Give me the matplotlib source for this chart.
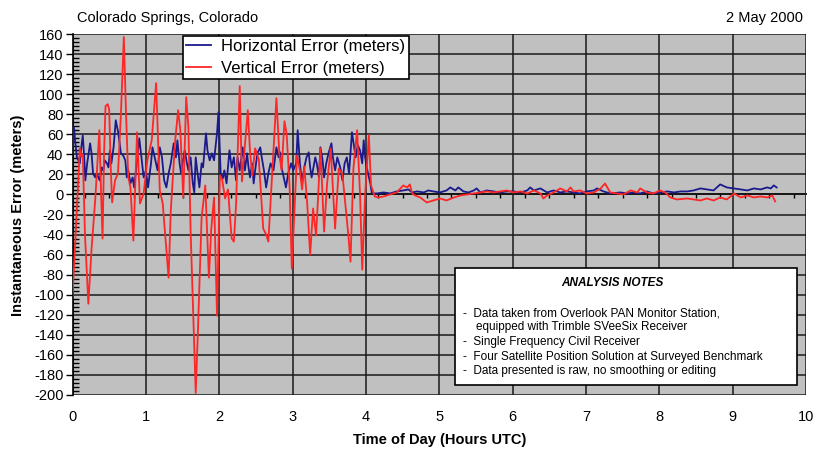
import numpy as np
import matplotlib
matplotlib.use("Agg")
import matplotlib.pyplot as plt
from matplotlib.patches import Rectangle
from matplotlib.ticker import MultipleLocator

plt.rcParams['font.family'] = ['Liberation Sans', 'DejaVu Sans']
plt.rcParams['axes.unicode_minus'] = False

# ---------------- data ----------------
h_time = [0.00, 0.02, 0.035, 0.06, 0.08, 0.10, 0.115, 0.14, 0.16, 0.175, 0.20, 0.24, 0.26, 0.28,
          0.31, 0.33, 0.37, 0.40, 0.42, 0.44, 0.47, 0.49, 0.51, 0.53, 0.56, 0.59, 0.625, 0.66,
          0.69, 0.72, 0.74, 0.76, 0.79, 0.82, 0.84, 0.87, 0.91, 0.94, 0.97, 1.00, 1.03, 1.07,
          1.09, 1.12, 1.16, 1.19, 1.22, 1.25, 1.28, 1.31, 1.34, 1.38, 1.41, 1.43, 1.46, 1.48,
          1.50, 1.53, 1.56, 1.58, 1.61, 1.64, 1.66, 1.68, 1.70, 1.73, 1.76, 1.78, 1.82, 1.84,
          1.87, 1.90, 1.93, 1.97, 1.99, 2.02, 2.05, 2.07, 2.10, 2.14, 2.17, 2.20, 2.23, 2.25,
          2.28, 2.32, 2.35, 2.38, 2.40, 2.42, 2.45, 2.47, 2.49, 2.52, 2.56, 2.58, 2.61, 2.64,
          2.67, 2.70, 2.74, 2.78, 2.81, 2.83, 2.85, 2.88, 2.91, 2.94, 2.98, 3.01, 3.05, 3.07,
          3.10, 3.13, 3.16, 3.19, 3.22, 3.24, 3.26, 3.31, 3.33, 3.36, 3.38, 3.41, 3.43, 3.46,
          3.49, 3.53, 3.55, 3.58, 3.61, 3.65, 3.68, 3.71, 3.74, 3.77, 3.81, 3.84, 3.86, 3.89,
          3.92, 3.95, 3.97, 3.99, 4.02, 4.06, 4.08, 4.10,
          4.15, 4.24, 4.33, 4.42, 4.51, 4.58, 4.63, 4.70, 4.79, 4.85, 4.92, 5.01, 5.10, 5.15,
          5.22, 5.26, 5.33, 5.40, 5.47, 5.51, 5.56, 5.65, 5.74, 5.83, 5.92, 6.01, 6.11, 6.20,
          6.24, 6.29, 6.38, 6.47, 6.56, 6.65, 6.74, 6.83, 6.92, 7.01, 7.11, 7.15, 7.24, 7.33,
          7.47, 7.56, 7.65, 7.74, 7.83, 7.92, 8.01, 8.11, 8.20, 8.29, 8.38, 8.47, 8.56, 8.65,
          8.74, 8.83, 8.92, 9.02, 9.11, 9.20, 9.29, 9.38, 9.47, 9.52, 9.56, 9.60]
h_err = [41, 67, 54, 37, 34, 31, 44, 59, 37, 14, 31, 51, 41, 21,
         17, 21, 14, 27, 24, 34, 31, 27, 44, 31, 47, 74, 61, 41,
         39, 34, 17, 24, 11, 17, 7, 27, 56, 37, 17, 24, 7, 31,
         47, 37, 24, 47, 37, 14, 7, 21, 31, 51, 37, 54, 31, 21,
         31, 44, 31, 24, 37, 11, 2, 37, 24, 7, 31, 27, 61, 44,
         34, 41, 34, 61, 82, 21, 16, 24, 11, 44, 27, 37, 14, 37,
         24, 47, 24, 41, 27, 17, 31, 11, 24, 41, 47, 37, 24, 7,
         21, 31, 24, 47, 37, 42, 27, 17, 7, 21, 31, 24, 31, 64,
         31, 11, 27, 37, 42, 27, 17, 37, 31, 17, 47, 34, 17, 31,
         41, 51, 37, 24, 37, 27, 14, 31, 37, 21, 62, 47, 37, 49,
         44, 31, 54, 37, 24, 11, 2, 1,
         1, 2, 1, 3, 4, 5, 2, 3, 2, 4, 3, 2, 4, 7,
         4, 7, 3, 2, 4, 6, 2, 4, 3, 2, 3, 3, 2, 4,
         7, 4, 6, 2, 4, 2, 3, 2, 1, 3, 4, 6, 3, 1,
         2, 1, 2, 1, 3, 1, 2, 3, 2, 3, 3, 4, 6, 5,
         4, 10, 7, 6, 5, 4, 6, 5, 7, 6, 9, 7]

v_time = [0.00, 0.10, 0.12, 0.14, 0.17, 0.216, 0.26, 0.31, 0.366, 0.39, 0.41, 0.43, 0.45, 0.48,
          0.50, 0.52, 0.54, 0.58, 0.62, 0.66, 0.70, 0.73, 0.76, 0.79, 0.83, 0.88, 0.92, 0.97,
          1.02, 1.08, 1.14, 1.19, 1.23, 1.28, 1.31, 1.34, 1.40, 1.44, 1.47, 1.51, 1.55, 1.58,
          1.61, 1.65, 1.68, 1.71, 1.76, 1.81, 1.86, 1.89, 1.93, 1.97, 2.01, 2.04, 2.08, 2.12,
          2.17, 2.20, 2.23, 2.28, 2.31, 2.34, 2.39, 2.42, 2.45, 2.49, 2.54, 2.60, 2.64, 2.67,
          2.71, 2.78, 2.82, 2.85, 2.89, 2.92, 2.96, 2.99, 3.06, 3.10, 3.13, 3.16, 3.20, 3.24,
          3.28, 3.32, 3.35, 3.38, 3.43, 3.47, 3.52, 3.55, 3.58, 3.63, 3.68, 3.72, 3.76, 3.79,
          3.83, 3.88, 3.92, 3.95, 3.99, 4.04, 4.07, 4.12,
          4.17, 4.24, 4.33, 4.42, 4.51, 4.56, 4.60, 4.63, 4.67, 4.74, 4.83, 4.92, 5.01, 5.10,
          5.20, 5.29, 5.38, 5.47, 5.56, 5.65, 5.74, 5.83, 5.92, 6.01, 6.11, 6.20, 6.29, 6.38,
          6.42, 6.47, 6.56, 6.65, 6.74, 6.79, 6.83, 6.92, 7.01, 7.11, 7.20, 7.26, 7.33, 7.42,
          7.51, 7.61, 7.70, 7.74, 7.83, 7.92, 8.01, 8.08, 8.15, 8.24, 8.38, 8.47, 8.56, 8.65,
          8.74, 8.83, 8.92, 9.02, 9.11, 9.20, 9.29, 9.38, 9.47, 9.54, 9.58]
v_err = [-103, 46, 38, 40, -40, -109, -54, -5, 64, 0, -44, 40, 88, 90,
         85, 30, -8, 14, 21, 80, 157, 80, 17, 7, -46, 62, -9, 1,
         34, 54, 111, 4, -9, -56, -83, -16, 54, 84, 64, -3, 97, 67,
         -36, -129, -198, -136, -23, 9, -83, -36, -3, -121, 19, 15, -4, 5,
         -44, -47, -10, 108, 13, 40, 84, 43, 19, 46, 35, -34, -40, -47,
         5, 96, 40, 24, 73, 60, 7, -74, 39, 24, 5, 28, -9, -60,
         -14, -41, 0, 46, -37, 10, 46, 5, -34, 26, 20, -10, -40, -67,
         26, 64, 0, -75, 0, 59, 9, -2,
         -3, -2, 0, 2, 9, 7, 10, 1, -1, -3, -8, -6, -4, -6,
         -3, -1, 0, 1, 2, 3, 2, 3, 4, 2, 3, 1, 4, 1,
         -4, -1, 2, 6, 3, 7, 3, 4, 1, 2, 6, 11, 2, 1,
         0, 4, 2, 6, 2, 1, 4, 2, -3, -5, -4, -5, -6, -4,
         -6, -3, -5, 1, -3, -1, -3, -2, -3, -1, -7]

x_ticks = list(range(0, 11))
y_ticks = list(range(-200, 161, 20))

title_left = "Colorado Springs, Colorado"
title_right = "2 May 2000"
x_label = "Time of Day (Hours UTC)"
y_label = "Instantaneous Error (meters)"
h_name = "Horizontal Error (meters)"
v_name = "Vertical Error (meters)"
notes_title = "ANALYSIS NOTES"
notes = ["-  Data taken from Overlook PAN Monitor Station,",
         "    equipped with Trimble SVeeSix Receiver",
         "-  Single Frequency Civil Receiver",
         "-  Four Satellite Position Solution at Surveyed Benchmark",
         "-  Data presented is raw, no smoothing or editing"]

# ---------------- figure ----------------
W, H = 818, 450
fig = plt.figure(figsize=(W / 100, H / 100), dpi=100)
fig.patch.set_facecolor('white')
ax_l, ax_r, ax_t, ax_b = 72.5, 806, 34, 395
ax = fig.add_axes([ax_l / W, 1 - ax_b / H, (ax_r - ax_l) / W, (ax_b - ax_t) / H])
ax.set_facecolor('#c0c0c0')

ax.plot(h_time, h_err, color='#1a1a8c', lw=1.3, label=h_name, zorder=3)
ax.plot(v_time, v_err, color='#ff2626', lw=1.3, label=v_name, zorder=3)

ax.set_xlim(0, 10)
ax.set_ylim(-200, 160)
ax.set_xticks(x_ticks)
ax.set_yticks(y_ticks)
ax.yaxis.set_minor_locator(MultipleLocator(4))
ax.grid(True, which='major', color='#1a1a1a', lw=1.1, zorder=1)
ax.set_axisbelow(True)

for s in ['top', 'right', 'bottom']:
    ax.spines[s].set_visible(False)
ax.spines['left'].set_color('black')
ax.spines['left'].set_linewidth(1.2)

ax.tick_params(axis='x', which='both', length=0, pad=11, labelsize=10.5)
ax.tick_params(axis='y', which='major', direction='out', length=5, width=1, pad=1.5, labelsize=10.5)
ax.tick_params(axis='y', which='minor', direction='in', length=4, width=1)

# category axis crossing at zero, with small tick marks
sec = ax.secondary_xaxis(200 / 360)
sec.set_alignment('bottom')
sec.set_xticks(np.arange(1 / 6, 10.01, 1 / 3))
sec.tick_params(axis='x', which='both', direction='out', length=3, width=1,
                labelbottom=False, labeltop=False, colors='black')
sec.spines['bottom'].set_color('black')
sec.spines['bottom'].set_linewidth(1.3)

ax.set_xlabel(x_label, fontsize=10.5, fontweight='bold', labelpad=6)
fig.text(18 / W, 1 - 215 / H, y_label, rotation=90, fontsize=10.5, fontweight='bold',
         ha='center', va='center')

fig.text(77 / W, 1 - 18 / H, title_left, fontsize=10.5, ha='left', va='center')
fig.text(803 / W, 1 - 18 / H, title_right, fontsize=10.5, ha='right', va='center')

leg = ax.legend(loc='upper left', bbox_to_anchor=((183 - ax_l) / (ax_r - ax_l), 0.995),
                fontsize=12, frameon=True, fancybox=False, framealpha=1, edgecolor='black',
                handlelength=1.5, handletextpad=0.6, borderpad=0.2, labelspacing=0.4,
                borderaxespad=0)
leg.get_frame().set_linewidth(1.2)
leg.set_zorder(5)

# analysis notes box
def axx(px):
    return (px - ax_l) / (ax_r - ax_l)

def axy(py):
    return (ax_b - py) / (ax_b - ax_t)

box = Rectangle((axx(455), axy(385)), axx(797) - axx(455), axy(268) - axy(385),
                transform=ax.transAxes, facecolor='white', edgecolor='black', lw=1.2, zorder=6)
ax.add_patch(box)
ax.text(axx(612), axy(283), notes_title, transform=ax.transAxes, fontsize=8.5,
        fontweight='bold', fontstyle='italic', ha='center', va='center', zorder=7)
note_y = [313, 327, 342, 357, 371]
for t, py in zip(notes, note_y):
    ax.text(axx(463), axy(py), t, transform=ax.transAxes, fontsize=8.5,
            ha='left', va='center', zorder=7)

fig.savefig('out.png', dpi=100)
